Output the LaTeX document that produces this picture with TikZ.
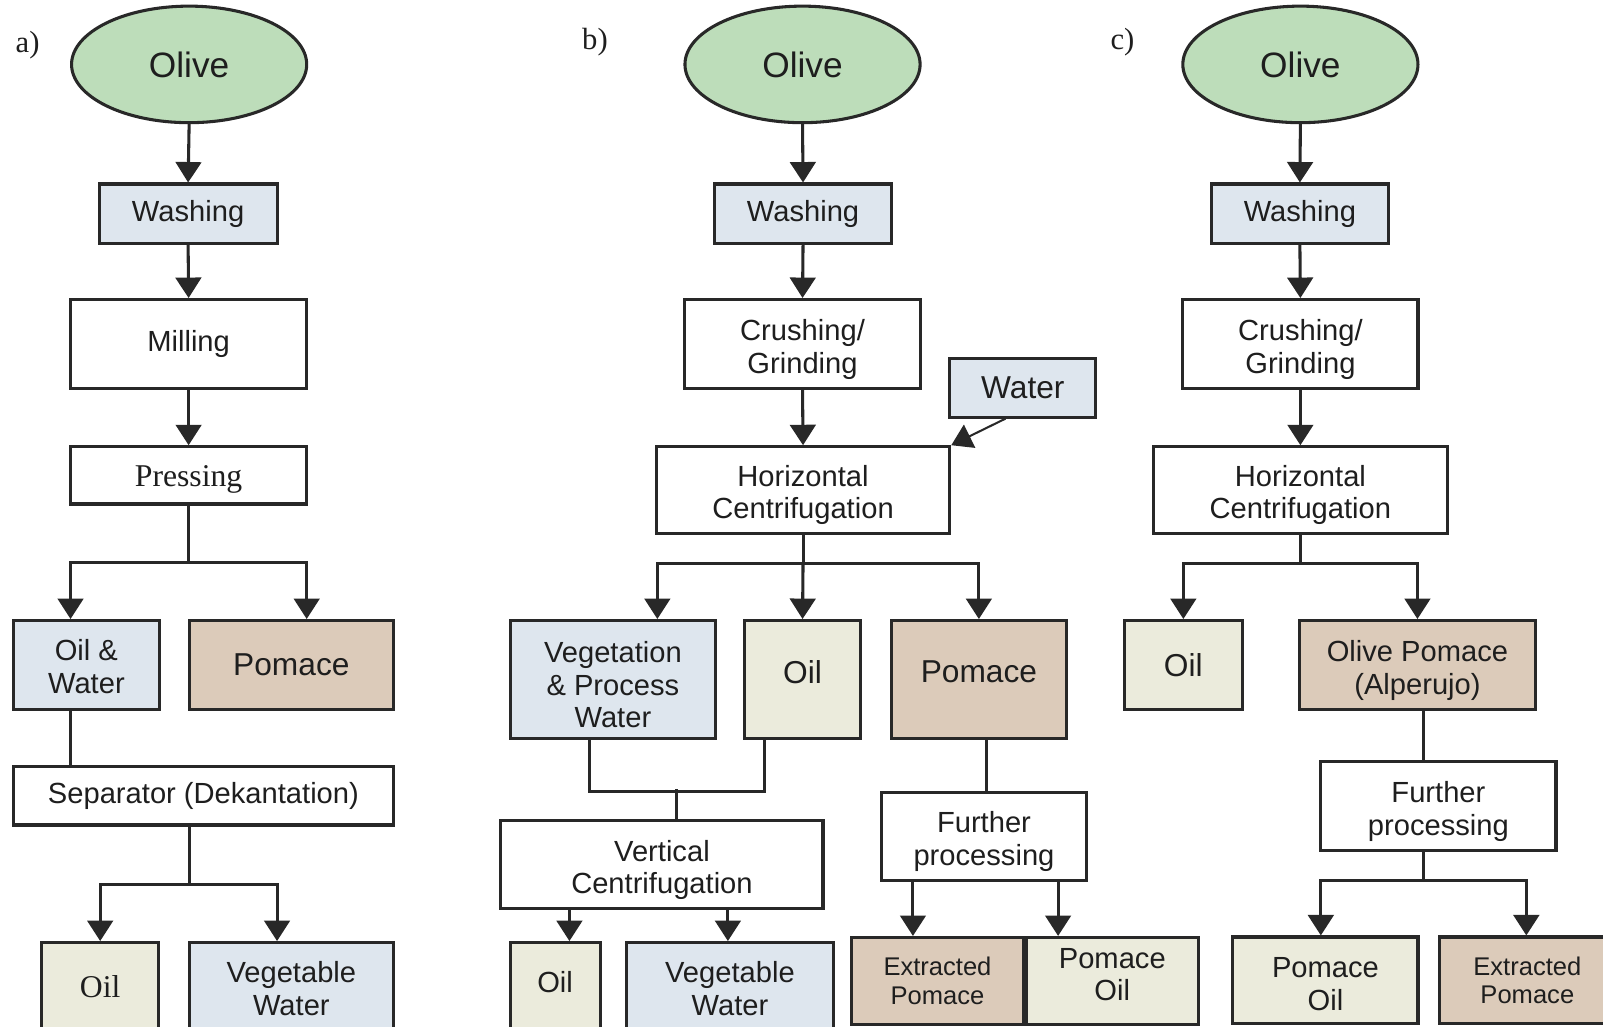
\documentclass[tikz,border=0pt]{standalone}
\usepackage{fontspec}
\setmainfont{Liberation Sans}
\newfontfamily\seriffam{Liberation Serif}
\usetikzlibrary{arrows.meta,shapes.geometric}
\definecolor{cgreen}{RGB}{189,221,186}
\definecolor{cblue}{RGB}{222,230,238}
\definecolor{ctan}{RGB}{220,203,186}
\definecolor{ccream}{RGB}{235,235,220}
\definecolor{cline}{RGB}{40,40,40}
\definecolor{ctext}{RGB}{30,30,30}
\newcommand\mv[2]{\raisebox{#1}[\height][\depth]{\begin{tabular}{@{}c@{}}#2\end{tabular}}}
\tikzset{
  box/.style={draw=cline, line width=3pt, rectangle, inner sep=0pt, align=center, text=ctext, font=\fontsize{28.5}{32}\selectfont},
  big/.style={font=\fontsize{31}{35}\selectfont},
  small/.style={font=\fontsize{25}{28}\selectfont},
  serifbig/.style={font=\seriffam\fontsize{31}{35}\selectfont},
  olive/.style={ellipse, draw=cline, line width=3pt, fill=cgreen, minimum width=230pt, minimum height=114pt, inner sep=0pt, text=ctext, font=\fontsize{34.5}{40}\selectfont},
  lbl/.style={text=ctext, font=\seriffam\fontsize{30}{34}\selectfont, inner sep=0pt},
  conn/.style={draw=cline, line width=3pt},
  arr/.style={conn, -{Triangle[width=25pt,length=20pt]}},
}
\begin{document}
\begin{tikzpicture}[x=1pt,y=-1pt]
\clip (0,0) rectangle (1568,1004);
\fill[white] (0,0) rectangle (1568,1004);
% ---------- panel a
\node[lbl] (la) at (27,44) {a)};
\node[olive] (ola) at (185,63) {Olive};
\node[box, fill=cblue, minimum width=174pt, minimum height=58pt] (wa) at (184,209) {Washing};
\node[box, fill=white, minimum width=231pt, minimum height=87pt] (mi) at (184.5,336.5) {Milling};
\node[box, serifbig, fill=white, minimum width=231pt, minimum height=56pt] (pr) at (184.5,465) {\raisebox{-4pt}[\height][\depth]{Pressing}};
\node[box, fill=cblue, minimum width=143pt, minimum height=87pt] (ow) at (84.5,650.5) {\mv{-5.5pt}{Oil \&\\Water}};
\node[box, big, fill=ctan, minimum width=200pt, minimum height=87pt] (poa) at (285,650.5) {Pomace};
\node[box, fill=white, minimum width=372pt, minimum height=57pt] (sep) at (199,778.5) {Separator (Dekantation)};
\node[box, serifbig, fill=ccream, minimum width=114pt, minimum height=86pt] (oia) at (98,965) {Oil};
\node[box, fill=cblue, minimum width=200pt, minimum height=86pt] (vwa) at (285,965) {\mv{-6pt}{Vegetable\\Water}};
\draw[arr] (ola.south) -- (wa.north);
\draw[arr] (wa.south) -- (mi.north);
\draw[arr] (mi.south) -- (pr.north);
\draw[conn] (pr.south) -- ++(0,56) coordinate (ja);
\draw[arr] (ja) -| ([xshift=-15.5pt]ow.north);
\draw[arr] (ja) -| ([xshift=15pt]poa.north);
\draw[conn] ([xshift=-15.5pt]ow.south) -- ([xshift=-15.5pt]ow.south |- sep.north);
\draw[conn] ([xshift=-14pt]sep.south) -- ++(0,57) coordinate (jb);
\draw[arr] (jb) -| (oia.north);
\draw[arr] (jb) -| ([xshift=-14pt]vwa.north);
% ---------- panel b
\node[lbl] (lb) at (582,41) {b)};
\node[olive] (olb) at (785,63) {Olive};
\node[box, fill=cblue, minimum width=173pt, minimum height=58pt] (wb) at (785.5,209) {Washing};
\node[box, fill=white, minimum width=230pt, minimum height=87pt] (cb) at (785,336.5) {\mv{-6.5pt}{Crushing/\\Grinding}};
\node[box, big, fill=cblue, minimum width=143pt, minimum height=57pt] (wt) at (1000.5,379.5) {Water};
\node[box, fill=white, minimum width=287pt, minimum height=85pt] (hb) at (785.5,479.5) {\mv{-5.5pt}{Horizontal\\Centrifugation}};
\node[box, fill=cblue, minimum width=201pt, minimum height=115pt] (vp) at (599.5,664.5) {\mv{-9pt}{Vegetation\\\& Process\\Water}};
\node[box, big, fill=ccream, minimum width=114pt, minimum height=115pt] (ob) at (785,664.5) {\raisebox{7.5pt}[\height][\depth]{Oil}};
\node[box, big, fill=ctan, minimum width=171pt, minimum height=115pt] (pb) at (957.5,664.5) {\raisebox{7.5pt}[\height][\depth]{Pomace}};
\node[box, fill=white, minimum width=315pt, minimum height=86pt] (vc) at (647.5,846) {\mv{-6pt}{Vertical\\Centrifugation}};
\node[box, fill=ccream, minimum width=88pt, minimum height=86pt] (obb) at (543,965) {\raisebox{4pt}[\height][\depth]{Oil}};
\node[box, fill=cblue, minimum width=202pt, minimum height=86pt] (vwb) at (714,965) {\mv{-6pt}{Vegetable\\Water}};
\node[box, fill=white, minimum width=201pt, minimum height=86pt] (fpb) at (962.5,818) {\mv{-6pt}{Further\\processing}};
\node[box, small, fill=ctan, minimum width=168pt, minimum height=85pt] (epb) at (917,959.5) {Extracted\\Pomace};
\node[box, fill=ccream, minimum width=168pt, minimum height=85pt] (pob) at (1088,959.5) {\mv{3pt}{Pomace\\Oil}};
\draw[arr] (olb.south) -- (wb.north);
\draw[arr] (wb.south) -- (cb.north);
\draw[arr] (cb.south) -- (hb.north);
\draw[arr, line width=2pt] ([xshift=-17pt]wt.south) -- (hb.north east);
\draw[conn] (hb.south) -- ++(0,28) coordinate (jc);
\draw[arr] (jc) -| ([xshift=43.5pt]vp.north);
\draw[arr] (jc) -- (ob.north);
\draw[arr] (jc) -| (pb.north);
\draw[conn] ([xshift=-22.5pt]vp.south) -- ++(0,51) -| ([xshift=-37pt]ob.south);
\draw[conn] ([xshift=14.5pt]vc.north) -- ++(0,-30) coordinate (jd);
\draw[arr] ([xshift=14pt]obb.north |- vc.south) -- ([xshift=14pt]obb.north);
\draw[arr] ([xshift=-2pt]vwb.north |- vc.south) -- ([xshift=-2pt]vwb.north);
\draw[conn] ([xshift=7pt]pb.south) -- ([xshift=7pt]pb.south |- fpb.north);
\draw[arr] ([xshift=-24pt]epb.north |- fpb.south) -- ([xshift=-24pt]epb.north);
\draw[arr] ([xshift=-53pt]pob.north |- fpb.south) -- ([xshift=-53pt]pob.north);
% ---------- panel c
\node[lbl] (lc) at (1098,41) {c)};
\node[olive] (olc) at (1272,63) {Olive};
\node[box, fill=cblue, minimum width=173pt, minimum height=58pt] (wc) at (1271.5,209) {Washing};
\node[box, fill=white, minimum width=230pt, minimum height=87pt] (cc) at (1272,336.5) {\mv{-6.5pt}{Crushing/\\Grinding}};
\node[box, fill=white, minimum width=288pt, minimum height=85pt] (hc) at (1272,479.5) {\mv{-5.5pt}{Horizontal\\Centrifugation}};
\node[box, big, fill=ccream, minimum width=115pt, minimum height=87pt] (oc) at (1157.5,650.5) {Oil};
\node[box, fill=ctan, minimum width=231pt, minimum height=87pt] (opc) at (1386.5,650.5) {\mv{-6.5pt}{Olive Pomace\\(Alperujo)}};
\node[box, fill=white, minimum width=230pt, minimum height=87pt] (fpc) at (1407,788.5) {\mv{-6.5pt}{Further\\processing}};
\node[box, fill=ccream, minimum width=181pt, minimum height=85pt] (poc) at (1296.5,959) {\mv{-7pt}{Pomace\\Oil}};
\node[box, small, fill=ctan, minimum width=172pt, minimum height=85pt] (epc) at (1494,959) {Extracted\\Pomace};
\draw[arr] (olc.south) -- (wc.north);
\draw[arr] (wc.south) -- (cc.north);
\draw[arr] (cc.south) -- (hc.north);
\draw[conn] (hc.south) -- ++(0,28) coordinate (je);
\draw[arr] (je) -| (oc.north);
\draw[arr] (je) -| (opc.north);
\draw[conn] ([xshift=5.5pt]opc.south) -- ([xshift=5.5pt]opc.south |- fpc.north);
\draw[conn] ([xshift=-15pt]fpc.south) -- ++(0,28) coordinate (jf);
\draw[arr] (jf) -| ([xshift=-4.5pt]poc.north);
\draw[arr] (jf) -| ([xshift=-1pt]epc.north);
\end{tikzpicture}
\end{document}
